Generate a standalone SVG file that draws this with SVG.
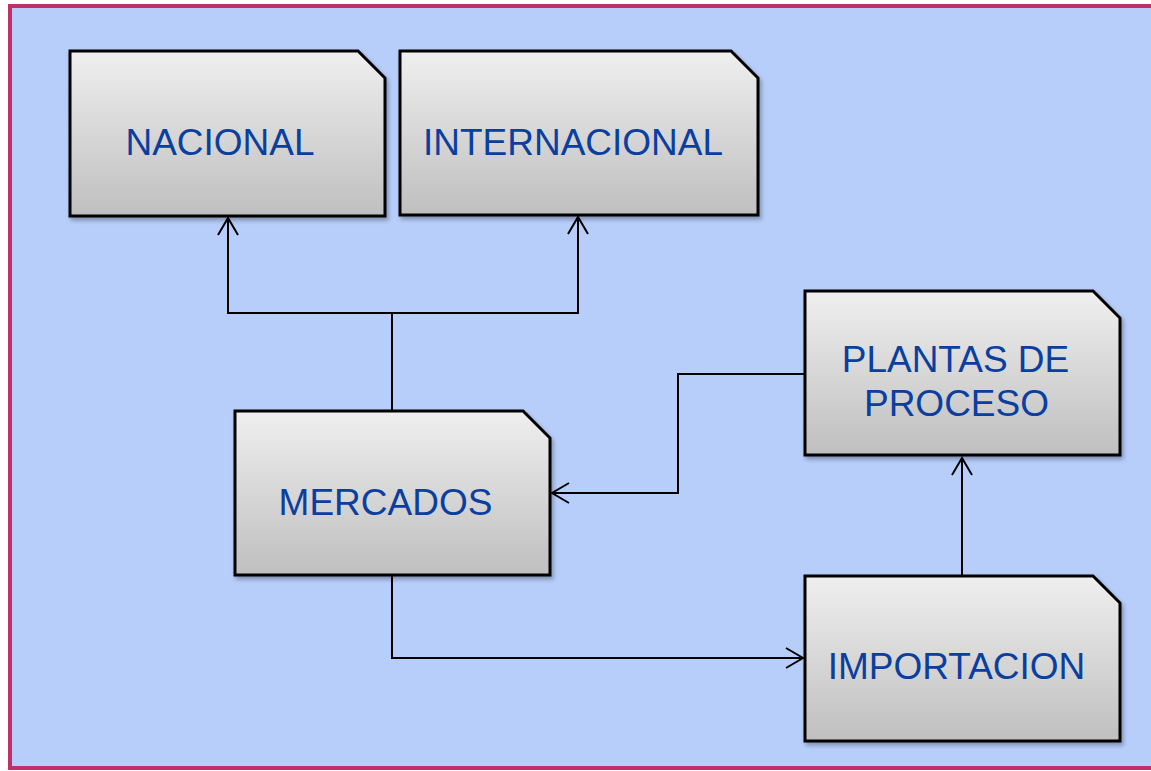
<svg xmlns="http://www.w3.org/2000/svg" width="1151" height="771" viewBox="0 0 1151 771">
  <defs>
    <linearGradient id="boxGrad" x1="0" y1="0" x2="0" y2="1">
      <stop offset="0" stop-color="#EFEFEF"/>
      <stop offset="1" stop-color="#BFBFBF"/>
    </linearGradient>
    <filter id="shadow" x="-10%" y="-10%" width="125%" height="125%">
      <feDropShadow dx="2" dy="3" stdDeviation="2" flood-color="#000" flood-opacity="0.3"/>
    </filter>
    <marker id="arrow" markerUnits="userSpaceOnUse" markerWidth="24" markerHeight="24" viewBox="-20 -12 24 24" refX="0" refY="0" orient="auto">
      <path d="M-17,-10 L0,0 L-17,10" fill="none" stroke="#000" stroke-width="2"/>
    </marker>
  </defs>
  <style>
    .box { fill: url(#boxGrad); stroke: #000; stroke-width: 3; filter: url(#shadow); }
    .lbl { font-family: "Liberation Sans", Arial, sans-serif; font-size: 37px; fill: #0A3FA0; }
    .conn { fill: none; stroke: #000; stroke-width: 2; }
  </style>
  <rect x="0" y="0" width="1151" height="771" fill="#FFFFFF"/>
  <rect x="10" y="6" width="1160" height="762" fill="#B7CEFB" stroke="#C2306A" stroke-width="4"/>

  <g id="connectors">
    <path class="conn" d="M392,410 L392,313"/>
    <path class="conn" d="M392,313 L228,313 L228,218" marker-end="url(#arrow)"/>
    <path class="conn" d="M392,313 L578,313 L578,217" marker-end="url(#arrow)"/>
    <path class="conn" d="M804,374 L678,374 L678,493 L552,493" marker-end="url(#arrow)"/>
    <path class="conn" d="M392,576 L392,658 L803,658" marker-end="url(#arrow)"/>
    <path class="conn" d="M962,575 L962,458" marker-end="url(#arrow)"/>
  </g>

  <g id="node-nacional">
    <path class="box" d="M70,51 L358,51 L385,78 L385,216 L70,216 Z"/>
    <text class="lbl" x="220" y="155" text-anchor="middle">NACIONAL</text>
  </g>
  <g id="node-internacional">
    <path class="box" d="M400,51 L731,51 L758,78 L758,215 L400,215 Z"/>
    <text class="lbl" x="573" y="155" text-anchor="middle">INTERNACIONAL</text>
  </g>
  <g id="node-mercados">
    <path class="box" d="M235,411 L523,411 L550,438 L550,575 L235,575 Z"/>
    <text class="lbl" x="385.5" y="515" text-anchor="middle">MERCADOS</text>
  </g>
  <g id="node-plantas">
    <path class="box" d="M805,291 L1093,291 L1120,318 L1120,455 L805,455 Z"/>
    <text class="lbl" x="955.5" y="372" text-anchor="middle">PLANTAS DE</text>
    <text class="lbl" x="956.5" y="416" text-anchor="middle">PROCESO</text>
  </g>
  <g id="node-importacion">
    <path class="box" d="M805,576 L1093,576 L1120,603 L1120,741 L805,741 Z"/>
    <text class="lbl" x="956.5" y="679" text-anchor="middle">IMPORTACION</text>
  </g>
</svg>
